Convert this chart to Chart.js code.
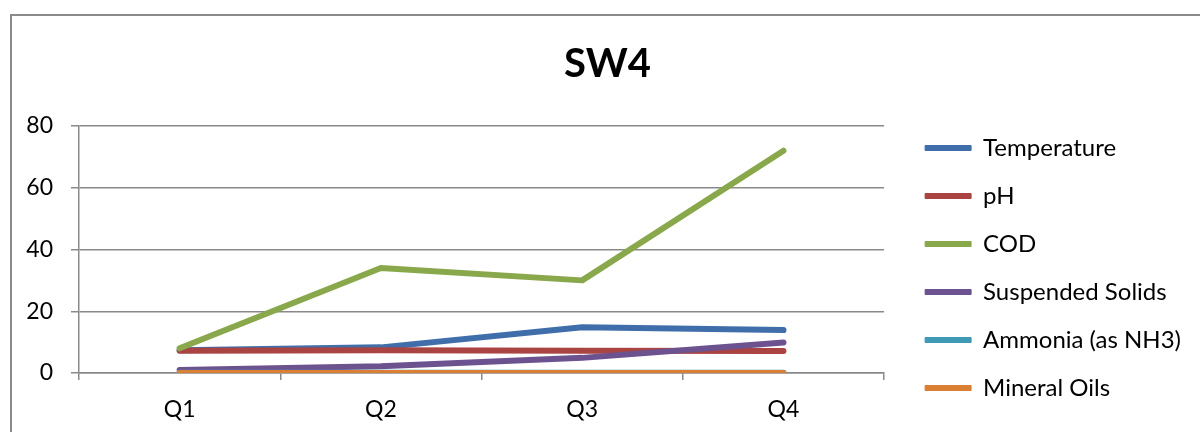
<!DOCTYPE html>
<html>
<head>
<meta charset="utf-8">
<script src="https://cdn.jsdelivr.net/npm/chart.js@4/dist/chart.umd.min.js"></script>
<style>
  html,body{margin:0;padding:0;background:#fff;overflow:hidden}
  #frame{position:absolute;left:10px;top:14px;width:1190px;height:418px;
    border-top:2px solid #8a8a8a;border-left:2px solid #8a8a8a;box-sizing:border-box}
  #wrap{position:absolute;left:0;top:0;width:1188px;height:416px}
</style>
</head>
<body>
<div id="frame"><div id="wrap"><canvas id="c"></canvas></div></div>
<script>
// SW4 quarterly readings
const quarters = ["Q1","Q2","Q3","Q4"];
const seriesNames = ["Temperature","pH","COD","Suspended Solids","Ammonia (as NH3)","Mineral Oils"];
const temperature = [7.4, 8.3, 14.8, 13.9];
const ph          = [7.2, 7.4, 7.2, 7.1];
const cod         = [8, 34, 30, 72];
const suspended   = [1.0, 2.2, 4.9, 9.9];
const ammonia     = [0.1, 0.1, 0.1, 0.1];
const mineralOils = [0, 0, 0, 0];
const yTicks = [0, 20, 40, 60, 80];

const colors = ["#3f6eaa","#a94442","#89a84b","#6d5290","#3e9ab5","#db7f35"];
const values = [temperature, ph, cod, suspended, ammonia, mineralOils];

Chart.defaults.font.family = "Lato, 'Open Sans', sans-serif";
Chart.defaults.color = "#000";

const datasets = values.map((v,i)=>({
  label: seriesNames[i], data: v,
  borderColor: colors[i], backgroundColor: colors[i],
  borderWidth: 6, borderCapStyle: "round", borderJoinStyle: "round",
  pointRadius: 0, pointHoverRadius: 0, tension: 0, fill: false,
  order: values.length - 1 - i   // later series drawn on top, like Excel
}));

new Chart(document.getElementById("c"), {
  type: "line",
  data: { labels: quarters, datasets },
  options: {
    responsive: true, maintainAspectRatio: false, animation: false,
    layout: { padding: { top: 0, right: 9, bottom: 8, left: 12 } },
    plugins: {
      title: { display: true, text: "SW4", color: "#000",
        font: { size: 40, weight: "bold" }, padding: { top: 24, bottom: 38 } },
      legend: { position: "right", align: "end", maxWidth: 400,
        labels: { boxWidth: 46, boxHeight: 5, padding: 24, color: "#000",
          font: { size: 24 },
          sort: (a,b)=>a.datasetIndex-b.datasetIndex,
          generateLabels: ch => ch.data.datasets.map((d,i)=>({
            text: d.label, fillStyle: d.borderColor, strokeStyle: d.borderColor,
            lineWidth: 1, datasetIndex: i, hidden: false })) } },
      tooltip: { enabled: false }
    },
    scales: {
      x: { offset: true,
        grid: { offset: true, drawOnChartArea: false, drawTicks: true, tickLength: 7,
          color: "#8a8a8a", lineWidth: 1.5 },
        border: { display: true, color: "#8a8a8a", width: 1.5 },
        ticks: { font: { size: 23 }, padding: 16, color: "#000" },
        afterFit: s => { s.height = 51; } },
      y: { min: 0, max: 80,
        afterBuildTicks: s => { s.ticks = yTicks.map(v=>({value:v})); },
        grid: { color: "#8a8a8a", lineWidth: 1.5, tickLength: 8, drawTicks: true },
        border: { display: true, color: "#8a8a8a", width: 1.5 },
        ticks: { font: { size: 23 }, padding: 18, color: "#000" },
        afterFit: s => { s.width = 55; } },
      gap: { type: "linear", position: "right", display: true,
        grid: { display: false }, border: { display: false },
        ticks: { display: false },
        afterFit: s => { s.width = 17; } }
    }
  }
});
</script>
</body>
</html>
